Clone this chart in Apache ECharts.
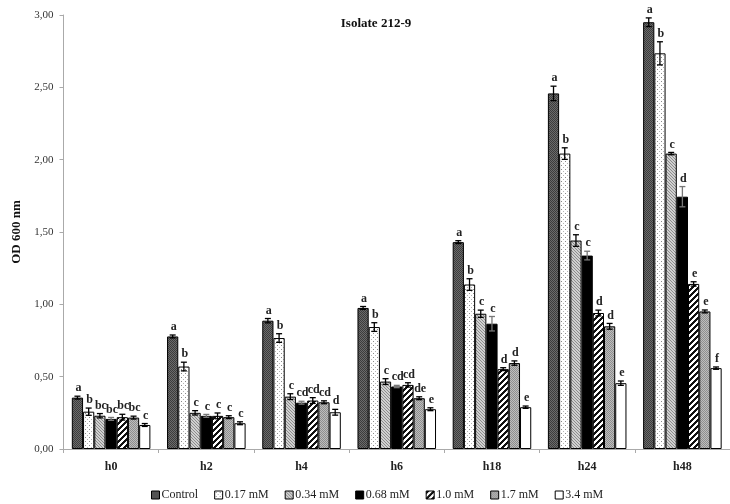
<!DOCTYPE html>
<html>
<head>
<meta charset="utf-8">
<script src="https://cdn.jsdelivr.net/npm/echarts@6/dist/echarts.min.js"></script>
<style>
  html, body { margin: 0; padding: 0; background: #fff; }
  #chart { width: 730px; height: 504px; }
</style>
</head>
<body>
<div id="chart"></div>
<script>
// Sampling times and treatment groups
const categories = ['h0', 'h2', 'h4', 'h6', 'h18', 'h24', 'h48'];
const seriesNames = ['Control', '0.17 mM', '0.34 mM', '0.68 mM', '1.0 mM', '1.7 mM', '3.4 mM'];

// Mean OD 600 nm per treatment
const control = [0.355, 0.778, 0.887, 0.975, 1.430, 2.458, 2.950];
const mM017   = [0.258, 0.570, 0.767, 0.843, 1.137, 2.042, 2.735];
const mM034   = [0.230, 0.250, 0.362, 0.466, 0.935, 1.441, 2.042];
const mM068   = [0.208, 0.229, 0.320, 0.432, 0.866, 1.337, 1.744];
const mM10    = [0.220, 0.229, 0.335, 0.443, 0.552, 0.940, 1.141];
const mM17    = [0.217, 0.220, 0.323, 0.351, 0.594, 0.848, 0.951];
const mM34    = [0.166, 0.178, 0.254, 0.275, 0.289, 0.455, 0.559];

// Standard deviations
const errControl = [0.010, 0.010, 0.015, 0.010, 0.010, 0.050, 0.030];
const err017     = [0.025, 0.030, 0.030, 0.030, 0.040, 0.040, 0.080];
const err034     = [0.015, 0.015, 0.020, 0.020, 0.025, 0.040, 0.008];
const err068     = [0.010, 0.010, 0.010, 0.008, 0.050, 0.030, 0.070];
const err10      = [0.020, 0.020, 0.020, 0.015, 0.010, 0.020, 0.015];
const err17      = [0.010, 0.010, 0.010, 0.010, 0.015, 0.020, 0.010];
const err34      = [0.010, 0.010, 0.020, 0.010, 0.008, 0.015, 0.008];

// Significance letters
const letControl = ['a', 'a', 'a', 'a', 'a', 'a', 'a'];
const let017     = ['b', 'b', 'b', 'b', 'b', 'b', 'b'];
const let034     = ['bc', 'c', 'c', 'c', 'c', 'c', 'c'];
const let068     = ['bc', 'c', 'cd', 'cd', 'c', 'c', 'd'];
const let10      = ['bc', 'c', 'cd', 'cd', 'd', 'd', 'e'];
const let17      = ['bc', 'c', 'cd', 'de', 'd', 'd', 'e'];
const let34      = ['c', 'c', 'd', 'e', 'e', 'e', 'f'];

// Y-axis tick labels
const yTicks = ['0,00', '0,50', '1,00', '1,50', '2,00', '2,50', '3,00'];

const means = [control, mM017, mM034, mM068, mM10, mM17, mM34];
const errs = [errControl, err017, err034, err068, err10, err17, err34];
const letters = [letControl, let017, let034, let068, let10, let17, let34];

const SERIF = "'Liberation Serif', 'Times New Roman', serif";
const CAT_GAP = 0.175;

// Small repeating fill textures for the bars
function tile(size, bg, paint) {
  const c = document.createElement('canvas');
  c.width = size; c.height = size;
  const ctx = c.getContext('2d');
  ctx.fillStyle = bg; ctx.fillRect(0, 0, size, size);
  for (let y = 0; y < size; y++) {
    for (let x = 0; x < size; x++) {
      const col = paint(x, y);
      if (col) { ctx.fillStyle = col; ctx.fillRect(x, y, 1, 1); }
    }
  }
  return { image: c, repeat: 'repeat' };
}

const fills = [
  tile(4, '#6b6b6b', (x, y) => ((x + y) % 2 === 0 ? '#3c3c3c' : null)),
  tile(4, '#ffffff', (x, y) => (x === 1 && y === 1 ? '#8a8a8a' : (x === 3 && y === 3 ? '#b5b5b5' : null))),
  tile(3, '#d0d0d0', (x, y) => ((x - y + 3) % 3 === 0 ? '#8c8c8c' : null)),
  '#000000',
  tile(6, '#ffffff', (x, y) => ((x + y) % 6 < 3 ? '#111111' : null)),
  tile(4, '#bdbdbd', (x, y) => ((y % 2 === 0 && x % 2 === 0) || (y % 2 === 1 && x % 2 === 1) ? '#8e8e8e' : null)),
  '#ffffff'
];

const barSeries = seriesNames.map((name, i) => ({
  name,
  type: 'bar',
  data: means[i],
  barGap: '0%',
  barCategoryGap: (CAT_GAP * 100) + '%',
  itemStyle: { color: fills[i], borderColor: '#000', borderWidth: 1 },
  emphasis: { disabled: true },
  z: 2
}));

// Error bars and letters, one item per bar
const errItems = [];
for (let s = 0; s < means.length; s++) {
  for (let c = 0; c < categories.length; c++) {
    errItems.push({ value: [c, s, means[s][c], errs[s][c]], letter: letters[s][c] });
  }
}

const errSeries = {
  type: 'custom',
  silent: true,
  z: 5,
  data: errItems,
  encode: { x: 0, y: 2 },
  renderItem(params, api) {
    const cat = api.value(0), s = api.value(1), v = api.value(2), e = api.value(3);
    const band = api.size([1, 0])[0];
    const groupW = band * (1 - CAT_GAP);
    const bw = groupW / seriesNames.length;
    const base = api.coord([cat, v]);
    const x = base[0] - groupW / 2 + (s + 0.5) * bw;
    const yTop = api.coord([cat, v + e])[1];
    const yBot = api.coord([cat, v - e])[1];
    const cap = 3;
    const col = s === 3 ? '#777' : '#000';
    const st = { stroke: col, lineWidth: 1.3 };
    return {
      type: 'group',
      children: [
        { type: 'line', shape: { x1: x, y1: yTop, x2: x, y2: yBot }, style: st },
        { type: 'line', shape: { x1: x - cap, y1: yTop, x2: x + cap, y2: yTop }, style: st },
        { type: 'line', shape: { x1: x - cap, y1: yBot, x2: x + cap, y2: yBot }, style: st },
        {
          type: 'text',
          style: {
            text: errItems[params.dataIndex].letter,
            x: x + 1, y: yTop - 2,
            align: 'center', verticalAlign: 'bottom',
            font: 'bold 12px ' + SERIF, fill: '#222'
          }
        }
      ]
    };
  }
};

const chart = echarts.init(document.getElementById('chart'), null, { renderer: 'canvas' });
chart.setOption({
  animation: false,
  backgroundColor: '#fff',
  title: {
    text: 'Isolate 212-9',
    left: 371, top: 12, textAlign: 'center',
    textStyle: { fontFamily: SERIF, fontWeight: 'bold', fontSize: 13, color: '#111' }
  },
  legend: {
    data: seriesNames,
    left: 146, top: 484,
    itemWidth: 8, itemHeight: 8, itemGap: 16,
    icon: 'rect',
    textStyle: { fontFamily: SERIF, fontSize: 12, color: '#222', padding: [0, 0, 0, -3] },
    itemStyle: { borderColor: '#000', borderWidth: 1 },
    selectedMode: false
  },
  grid: { left: 63.5, right: -4, top: 15, bottom: 55, containLabel: false },
  xAxis: {
    type: 'category',
    data: categories,
    axisLine: { lineStyle: { color: '#aaa', width: 1 } },
    axisTick: { show: true, length: 4, lineStyle: { color: '#aaa' } },
    axisLabel: { fontFamily: SERIF, fontWeight: 'bold', fontSize: 12, color: '#222', margin: 12 }
  },
  yAxis: {
    type: 'value',
    min: 0, max: 3, interval: 0.5,
    name: 'OD 600 nm',
    nameLocation: 'middle',
    nameGap: 38,
    nameTextStyle: { fontFamily: SERIF, fontWeight: 'bold', fontSize: 13, color: '#111' },
    axisLine: { show: true, lineStyle: { color: '#aaa', width: 1 } },
    axisTick: { show: true, length: 4, lineStyle: { color: '#aaa' } },
    splitLine: { show: false },
    axisLabel: {
      fontFamily: SERIF, fontSize: 11, color: '#333', margin: 10,
      formatter: (val) => yTicks[Math.round(val / 0.5)]
    }
  },
  series: [...barSeries, errSeries]
});
</script>
</body>
</html>
